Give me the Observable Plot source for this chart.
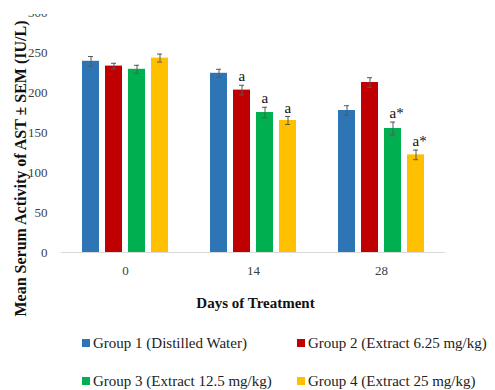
<!DOCTYPE html>
<html>
<head>
<meta charset="utf-8">
<script src="https://cdn.jsdelivr.net/npm/d3@7"></script>
<script src="https://cdn.jsdelivr.net/npm/@observablehq/plot@0.6"></script>
<style>
  body { margin: 0; background: #fff; font-family: "Liberation Serif", "Times New Roman", serif; }
  #chart { position: relative; width: 495px; height: 390px; overflow: hidden; }
  #chart svg { display: block; clip-path: inset(14px 0 0 0); }
  .legend {
    position: absolute; left: 82px; top: 324px;
    display: grid; grid-template-columns: 215px auto; grid-auto-rows: 38px;
    font-size: 15px; color: #222;
  }
  .legend .item { display: flex; align-items: center; white-space: nowrap; }
  .legend .sw { width: 8px; height: 8px; margin-right: 3px; flex: none; }
</style>
</head>
<body>
<div id="chart"></div>
<script>
// Days at which serum AST was measured
const days = [0, 14, 28];

// Treatment groups and their bar colours
const groups = [
  "Group 1 (Distilled Water)",
  "Group 2 (Extract 6.25 mg/kg)",
  "Group 3 (Extract 12.5 mg/kg)",
  "Group 4 (Extract 25 mg/kg)"
];
const colors = ["#2e75b6", "#c00000", "#00b050", "#ffc000"];

// Mean serum AST (IU/L) per group, one value per day
const group1Mean = [239, 224, 177.5];
const group2Mean = [233, 203, 212.5];
const group3Mean = [229, 175, 155];
const group4Mean = [243, 165, 122];

// Standard error of the mean per group, one value per day
const group1Sem = [6, 5, 6];
const group2Sem = [3.5, 6, 6];
const group3Sem = [5, 6.5, 8];
const group4Sem = [5, 5, 6];

// Significance marks per group, one per day
const group1Sig = ["", "", ""];
const group2Sig = ["", "a", ""];
const group3Sig = ["", "a", "a*"];
const group4Sig = ["", "a", "a*"];

// Value-axis ticks
const yTicks = [0, 50, 100, 150, 200, 250, 300];

const yTitle = "Mean Serum Activity of AST \u00b1 SEM (IU/L)";
const xTitle = "Days of Treatment";

const means = [group1Mean, group2Mean, group3Mean, group4Mean];
const sems = [group1Sem, group2Sem, group3Sem, group4Sem];
const sigs = [group1Sig, group2Sig, group3Sig, group4Sig];

const rows = [];
days.forEach((day, i) => {
  groups.forEach((group, j) => {
    rows.push({day, group, mean: means[j][i], sem: sems[j][i], sig: sigs[j][i]});
  });
});

const errColor = "#595959";

const chart = Plot.plot({
  width: 495,
  height: 318,
  marginLeft: 60,
  marginRight: 50,
  marginTop: 12,
  marginBottom: 66,
  style: {fontFamily: "Liberation Serif, Times New Roman, serif", fontSize: "13px", color: "#404040", background: "#fff"},
  fx: {domain: days, padding: 0, label: null, tickSize: 0, tickPadding: 13},
  x: {domain: groups, paddingInner: 0.25, paddingOuter: 0.875, axis: null},
  y: {domain: [0, 300], ticks: yTicks, tickSize: 0, tickPadding: 14, label: null},
  color: {domain: groups, range: colors},
  marks: [
    Plot.ruleY([0], {stroke: "#d9d9d9"}),
    Plot.barY(rows, {fx: "day", x: "group", y: "mean", fill: "group"}),
    Plot.ruleX(rows, {fx: "day", x: "group", y1: d => d.mean - d.sem, y2: d => d.mean + d.sem, stroke: errColor}),
    Plot.tickY(rows, {fx: "day", x: "group", y: d => d.mean + d.sem, stroke: errColor, insetLeft: 6, insetRight: 6}),
    Plot.tickY(rows, {fx: "day", x: "group", y: d => d.mean - d.sem, stroke: errColor, insetLeft: 6, insetRight: 6}),
    Plot.text(rows.filter(d => d.sig), {
      fx: "day", x: "group", y: d => d.mean + d.sem, text: "sig",
      textAnchor: "start", lineAnchor: "bottom", dx: -3.5, dy: -4,
      fontSize: 15, fill: "#111"
    }),
    // vertical value-axis title, drawn once beside the first facet
    Plot.text([{day: 0}], {
      fx: "day", frameAnchor: "left", text: () => yTitle, rotate: -90,
      textAnchor: "middle", lineAnchor: "middle",
      dx: -41, dy: 36, fontWeight: "bold", fontSize: 16, fill: "#111"
    }),
    // horizontal axis title under the middle facet
    Plot.text([{day: 14}], {
      fx: "day", frameAnchor: "bottom", text: () => xTitle,
      textAnchor: "middle", lineAnchor: "middle",
      dx: 2, dy: 51, fontWeight: "bold", fontSize: 15, fill: "#111"
    })
  ]
});

const root = document.getElementById("chart");
root.appendChild(chart);

// Two-column legend below the plot
const legend = document.createElement("div");
legend.className = "legend";
groups.forEach((g, i) => {
  const item = document.createElement("div");
  item.className = "item";
  const sw = document.createElement("span");
  sw.className = "sw";
  sw.style.background = colors[i];
  const label = document.createElement("span");
  label.textContent = g;
  item.appendChild(sw);
  item.appendChild(label);
  legend.appendChild(item);
});
root.appendChild(legend);
</script>
</body>
</html>
